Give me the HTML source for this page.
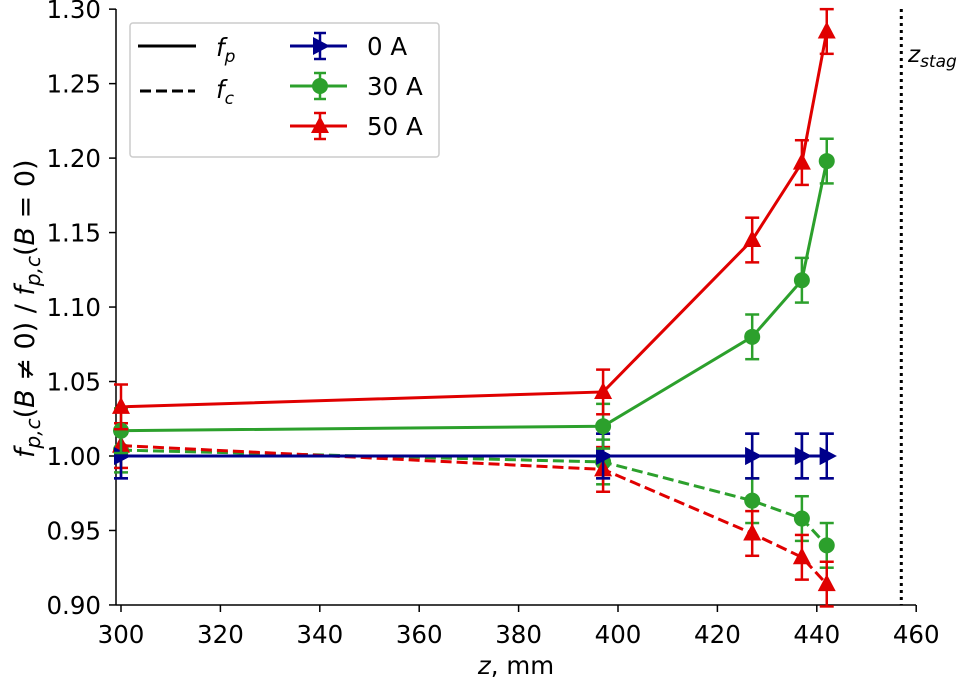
<!DOCTYPE html>
<html><head><meta charset="utf-8"><style>
body{margin:0;background:#fff}
svg text{font-family:"DejaVu Sans","Liberation Sans",sans-serif;fill:#000}
</style></head><body>
<svg id="c" width="963" height="680" xmlns="http://www.w3.org/2000/svg"></svg>
<script>
const zVals=[300,397,427,437,442];
const fp0=[1.000,1.000,1.000,1.000,1.000];
const fp30=[1.017,1.020,1.080,1.118,1.198];
const fp50=[1.033,1.043,1.145,1.197,1.285];
const fc0=[1.000,1.000,1.000,1.000,1.000];
const fc30=[1.004,0.996,0.970,0.958,0.940];
const fc50=[1.007,0.991,0.948,0.932,0.914];
const errs=[0.015,0.015,0.015,0.015,0.015];
const xTicks=[300,320,340,360,380,400,420,440,460];
const yTicks=[0.90,0.95,1.00,1.05,1.10,1.15,1.20,1.25,1.30];
const zStag=457;
const X=v=>121+(v-300)*4.97;
const Y=v=>456-(v-1.0)*1489.5;
const svg=document.getElementById('c');
const NS='http://www.w3.org/2000/svg';
function mk(t,a,p){const e=document.createElementNS(NS,t);for(const k in a)e.setAttribute(k,a[k]);(p||svg).appendChild(e);return e;}
let e=mk('line',{x1:116,y1:605,x2:916,y2:605,stroke:'#000','stroke-width':1.5});


e=mk('line',{x1:116,y1:9,x2:116,y2:605,stroke:'#000','stroke-width':1.5});


xTicks.forEach(t=>{mk('line',{x1:X(t),y1:605,x2:X(t),y2:612,stroke:'#000','stroke-width':1.5});
 const tx=mk('text',{x:X(t),y:643,'text-anchor':'middle','font-size':24.5});tx.textContent=t;
 
 });
yTicks.forEach(t=>{mk('line',{x1:109,y1:Y(t),x2:116,y2:Y(t),stroke:'#000','stroke-width':1.5});
 const tx=mk('text',{x:101,y:Y(t)+9,'text-anchor':'end','font-size':24.5});tx.textContent=t.toFixed(2);
 
 });
e=mk('text',{x:516,y:674,'text-anchor':'middle','font-size':24.5});
e.innerHTML='<tspan font-style="italic">z</tspan>, mm';


e=mk('text',{x:-458,y:34,'font-size':27,transform:'rotate(-90)'});
e.innerHTML='<tspan font-style="italic">f</tspan><tspan font-style="italic" font-size="20" dy="6">p,c</tspan><tspan dy="-6">(</tspan><tspan font-style="italic">B</tspan> ≠ 0) / <tspan font-style="italic">f</tspan><tspan font-style="italic" font-size="20" dy="6">p,c</tspan><tspan dy="-6">(</tspan><tspan font-style="italic">B</tspan> = 0)';


e=mk('line',{x1:X(zStag),y1:9,x2:X(zStag),y2:605,stroke:'#000','stroke-width':3,'stroke-dasharray':'3,4'});


e=mk('text',{x:908,y:62,'font-size':23,'font-style':'italic'});
e.innerHTML='z<tspan font-size="17" dy="5">stag</tspan>';


function marker(g,type,x,y,c){
 if(type==='tri')mk('polygon',{points:`${x},${y-10} ${x-9},${y+7} ${x+9},${y+7}`,fill:c},g);
 else if(type==='circ')mk('circle',{cx:x,cy:y,r:8,fill:c},g);
 else mk('polygon',{points:`${x+10},${y} ${x-7},${y-9} ${x-7},${y+9}`,fill:c},g);
}
function series(name,vals,c,dash,type){
 const g=mk('g',{});
 
 
 mk('polyline',{points:zVals.map((z,i)=>X(z)+','+Y(vals[i])).join(' '),fill:'none',stroke:c,'stroke-width':3,'stroke-dasharray':dash?'11,5':'none'},g);
 zVals.forEach((z,i)=>{const x=X(z),y1=Y(vals[i]+errs[i]),y2=Y(vals[i]-errs[i]);
  mk('line',{x1:x,y1:y1,x2:x,y2:y2,stroke:c,'stroke-width':2.5},g);
  mk('line',{x1:x-7,y1:y1,x2:x+7,y2:y1,stroke:c,'stroke-width':2.5},g);
  mk('line',{x1:x-7,y1:y2,x2:x+7,y2:y2,stroke:c,'stroke-width':2.5},g);
  marker(g,type,x,Y(vals[i]),c);});
}
series('series-fc-0a',fc0,'#00008b',true,'right');
series('series-fc-30a',fc30,'#2ca02c',true,'circ');
series('series-fc-50a',fc50,'#e00000',true,'tri');
series('series-fp-0a',fp0,'#00008b',false,'right');
series('series-fp-30a',fp30,'#2ca02c',false,'circ');
series('series-fp-50a',fp50,'#e00000',false,'tri');
const lg=mk('g',{});


mk('rect',{x:130,y:23,width:309,height:134,rx:3,fill:'#fff','fill-opacity':0.85,stroke:'#ccc','stroke-width':1.5},lg);
mk('line',{x1:138,y1:46,x2:196,y2:46,stroke:'#000','stroke-width':3},lg);
mk('line',{x1:140,y1:91,x2:195,y2:91,stroke:'#000','stroke-width':3,'stroke-dasharray':'11,5'},lg);
let t=mk('text',{x:216,y:56,'font-size':24.5,'font-style':'italic'},lg);t.innerHTML='f<tspan font-size="17" dy="6">p</tspan>';


t=mk('text',{x:216,y:98,'font-size':24.5,'font-style':'italic'},lg);t.innerHTML='f<tspan font-size="17" dy="6">c</tspan>';


[['0 A','#00008b','right',46],['30 A','#2ca02c','circ',86],['50 A','#e00000','tri',126]].forEach(r=>{
 const g=mk('g',{},lg);
 
 
 mk('line',{x1:290,y1:r[3],x2:347,y2:r[3],stroke:r[1],'stroke-width':3},g);
 mk('line',{x1:320,y1:r[3]-13,x2:320,y2:r[3]+13,stroke:r[1],'stroke-width':2.5},g);
 mk('line',{x1:314,y1:r[3]-13,x2:326,y2:r[3]-13,stroke:r[1],'stroke-width':2.5},g);
 mk('line',{x1:314,y1:r[3]+13,x2:326,y2:r[3]+13,stroke:r[1],'stroke-width':2.5},g);
 marker(g,r[2],320,r[3],r[1]);
 const tt=mk('text',{x:367,y:r[3]+9,'font-size':24.5},g);tt.textContent=r[0];
});
</script>
</body></html>
